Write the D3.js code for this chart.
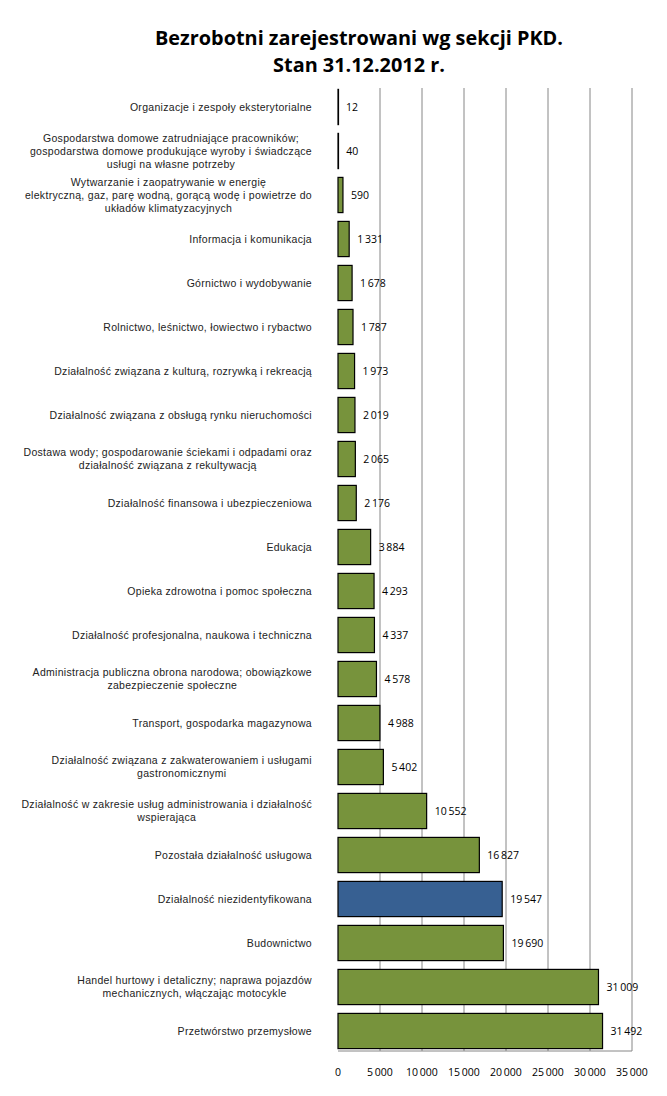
<!DOCTYPE html>
<html><head><meta charset="utf-8">
<script src="https://cdn.jsdelivr.net/npm/d3@7"></script>
<style>body{margin:0;background:#fff}</style>
</head><body>
<svg id="c" width="667" height="1096"></svg>
<script>
const categories = [
  ["Organizacje i zespoły eksterytorialne"],
  ["Gospodarstwa domowe zatrudniające pracowników;","gospodarstwa domowe produkujące wyroby i świadczące","usługi na własne potrzeby"],
  ["Wytwarzanie i zaopatrywanie w energię","elektryczną, gaz, parę wodną, gorącą wodę i powietrze do","układów klimatyzacyjnych"],
  ["Informacja i komunikacja"],
  ["Górnictwo i wydobywanie"],
  ["Rolnictwo, leśnictwo, łowiectwo i rybactwo"],
  ["Działalność związana z kulturą,  rozrywką i rekreacją"],
  ["Działalność związana z obsługą rynku nieruchomości"],
  ["Dostawa wody; gospodarowanie ściekami i odpadami oraz","działalność związana z rekultywacją"],
  ["Działalność finansowa i ubezpieczeniowa"],
  ["Edukacja"],
  ["Opieka zdrowotna i pomoc społeczna"],
  ["Działalność profesjonalna, naukowa i techniczna"],
  ["Administracja publiczna obrona narodowa; obowiązkowe","zabezpieczenie społeczne"],
  ["Transport, gospodarka  magazynowa"],
  ["Działalność związana z zakwaterowaniem  i usługami","gastronomicznymi"],
  ["Działalność w zakresie usług administrowania i działalność","wspierająca"],
  ["Pozostała działalność usługowa"],
  ["Działalność niezidentyfikowana"],
  ["Budownictwo"],
  ["Handel hurtowy i detaliczny; naprawa pojazdów","mechanicznych, włączając motocykle"],
  ["Przetwórstwo przemysłowe"]
];
const values = [12,40,590,1331,1678,1787,1973,2019,2065,2176,3884,4293,4337,4578,4988,5402,10552,16827,19547,19690,31009,31492];
const highlighted = ["Działalność niezidentyfikowana"];
const xTicks = [0,5000,10000,15000,20000,25000,30000,35000];
const titleLines = ["Bezrobotni zarejestrowani wg sekcji PKD.","Stan 31.12.2012 r."];

const svg = d3.select("#c");
const pL = 338, pR = 632, pT = 85, pB = 1053;
const fmt = v => d3.format(",")(v).replace(/,/g, "\u2009");
const fmtT = v => v === 0 ? "0" : d3.format(",")(v).replace(/,/g, "\u2009");

const x = d3.scaleLinear().domain([0,35000]).range([pL,pR]);
const y = d3.scaleBand().domain(d3.range(values.length)).range([pT,pB]).paddingInner(0.2).paddingOuter(0.1);

// title
const tt = svg.append("g");
titleLines.forEach((t,i)=>{
  tt.append("text").attr("x",359).attr("y",45+i*27).attr("text-anchor","middle")
    .attr("font-family","'Open Sans', sans-serif").attr("font-weight","bold").attr("font-size",19)
    .attr("fill","#000").text(t);
});
const w0 = tt.select("text").node().getComputedTextLength();
const sc = 408 / w0;
tt.selectAll("text").attr("font-size", 19*sc);

// gridlines
svg.append("g").selectAll("line").data(xTicks.slice(1)).join("line")
  .attr("x1",d=>x(d)).attr("x2",d=>x(d)).attr("y1",pT+3).attr("y2",pB-2)
  .attr("stroke","#868686").attr("stroke-width",1);

svg.append("line").attr("x1",pL).attr("x2",pR).attr("y1",pB-2).attr("y2",pB-2).attr("stroke","#868686");

// bars
svg.append("g").selectAll("rect").data(values).join("rect")
  .attr("x",x(0)).attr("y",(d,i)=>y(i)).attr("width",d=>Math.max(0.5,x(d)-x(0))).attr("height",y.bandwidth())
  .attr("fill",(d,i)=>highlighted.includes(categories[i][0]) ? "#376092" : "#77933C")
  .attr("stroke","#000").attr("stroke-width",1.2);

// value labels
svg.append("g").selectAll("text").data(values).join("text")
  .attr("x",d=>x(d)+8).attr("y",(d,i)=>y(i)+y.bandwidth()/2+4)
  .attr("font-family","'Open Sans', sans-serif").attr("font-size",10.5).attr("fill","#000")
  .text(d=>fmt(d));

// category labels
const lg = svg.append("g");
categories.forEach((lines,i)=>{
  const cy = y(i)+y.bandwidth()/2;
  const g = lg.append("g");
  const n = lines.length;
  const texts = lines.map((l,j)=> g.append("text").attr("y",cy+(j-(n-1)/2)*13+3.5)
    .attr("font-family","'Liberation Sans', Arial, sans-serif").attr("font-size",10.5)
    .attr("letter-spacing",0.3).attr("fill","#222")
    .attr("text-anchor","middle").text(l));
  const maxW = d3.max(texts, t=>t.node().getComputedTextLength());
  texts.forEach(t=>t.attr("x", 312 - maxW/2));
});

// x tick labels
svg.append("g").selectAll("text").data(xTicks).join("text")
  .attr("x",d=>x(d)).attr("y",1076).attr("text-anchor","middle")
  .attr("font-family","'Open Sans', sans-serif").attr("font-size",10.5).attr("fill","#000")
  .text(d=>fmtT(d));
</script>
</body></html>
